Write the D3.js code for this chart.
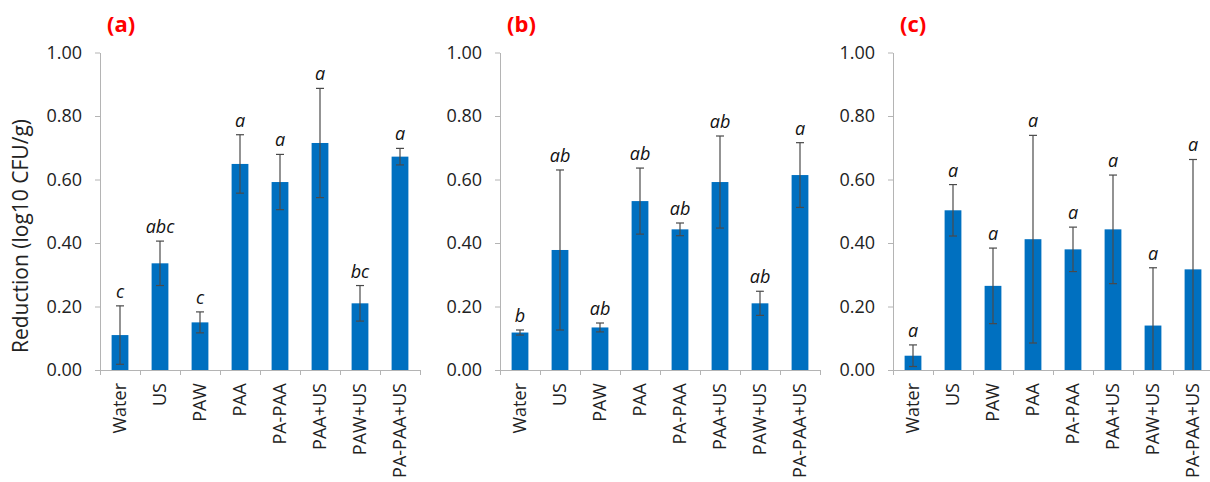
<!DOCTYPE html>
<html>
<head>
<meta charset="utf-8">
<script src="https://cdn.jsdelivr.net/npm/d3@7/dist/d3.min.js"></script>
<style>
  body { margin: 0; background: #fff; }
  svg { display: block; font-family: "Open Sans", sans-serif; }
</style>
</head>
<body>
<svg id="chart" width="1210" height="482"></svg>
<script>
// treatments, same order in every panel
var categories = ["Water", "US", "PAW", "PAA", "PA-PAA", "PAA+US", "PAW+US", "PA-PAA+US"];
var yTicks = [0, 0.2, 0.4, 0.6, 0.8, 1.0];
var panelNames = ["(a)", "(b)", "(c)"];

// mean reduction (log10 CFU/g)
var meansA = [0.110, 0.336, 0.150, 0.649, 0.592, 0.715, 0.210, 0.672];
var meansB = [0.118, 0.378, 0.134, 0.532, 0.443, 0.592, 0.210, 0.614];
var meansC = [0.045, 0.503, 0.265, 0.412, 0.380, 0.443, 0.140, 0.317];

// standard deviation (error bars)
var errA = [0.092, 0.070, 0.033, 0.092, 0.087, 0.172, 0.056, 0.026];
var errB = [0.008, 0.252, 0.014, 0.104, 0.020, 0.145, 0.038, 0.102];
var errC = [0.034, 0.081, 0.119, 0.327, 0.070, 0.171, 0.182, 0.346];

// significance letters
var lettersA = ["c", "abc", "c", "a", "a", "a", "bc", "a"];
var lettersB = ["b", "ab", "ab", "ab", "ab", "ab", "ab", "a"];
var lettersC = ["a", "a", "a", "a", "a", "a", "a", "a"];

var BAR_BLUE = "#0070c0";
var AXIS_GREY = "#b4b4b4";
var PLOT_TOP = 52.5;
var PLOT_BOTTOM = 370;
var BAND = 40;

var svg = d3.select("#chart");

/**
 * Draw one bar panel with its own axes
 * @param {number} x0 left edge (position of the y axis)
 * @param {string} name panel tag like "(a)"
 * @param {Array.<number>} means bar heights
 * @param {Array.<number>} errs error bar half lengths
 * @param {Array.<string>} letters letters above the bars
 */
function draw_panel(x0, name, means, errs, letters) {
    var g = svg.append("g");
    var rows = categories.map(function(c, i) {
        return {cat: c, mean: means[i], err: errs[i], letter: letters[i]};
    });

    var x = d3.scaleBand()
        .domain(categories)
        .range([x0, x0 + BAND * categories.length])
        .paddingInner(0.58)
        .paddingOuter(0.29);
    var xEdge = d3.scaleLinear()
        .domain([0, categories.length])
        .range([x0, x0 + BAND * categories.length]);
    var y = d3.scaleLinear().domain([0, 1]).range([PLOT_BOTTOM, PLOT_TOP]);
    var cx = function(d) { return x(d.cat) + x.bandwidth() / 2; };

    // y axis
    var yAxis = g.append("g")
        .attr("transform", "translate(" + x0 + ",0)")
        .call(d3.axisLeft(y).tickValues(yTicks).tickFormat(d3.format(".2f"))
            .tickSize(5).tickSizeOuter(0).tickPadding(13));
    yAxis.selectAll("path, line").attr("stroke", AXIS_GREY);
    yAxis.selectAll("text")
        .attr("font-family", "Open Sans, sans-serif")
        .attr("font-size", 18)
        .attr("fill", "#222");

    // x axis, ticks sit between categories
    var xAxis = g.append("g")
        .attr("transform", "translate(0," + PLOT_BOTTOM + ")")
        .call(d3.axisBottom(xEdge).tickValues(d3.range(categories.length + 1))
            .tickFormat("").tickSize(5).tickSizeOuter(0));
    xAxis.selectAll("path, line").attr("stroke", AXIS_GREY);

    g.selectAll(".cat")
        .data(rows)
        .enter().append("text")
        .attr("class", "cat")
        .attr("transform", function(d) {
            return "translate(" + cx(d) + "," + (PLOT_BOTTOM + 13) + ") rotate(-90)";
        })
        .attr("text-anchor", "end")
        .attr("dy", "0.35em")
        .attr("font-size", 18)
        .attr("fill", "#222")
        .text(function(d) { return d.cat; });

    // bars
    g.selectAll(".bar")
        .data(rows)
        .enter().append("rect")
        .attr("class", "bar")
        .attr("x", function(d) { return x(d.cat); })
        .attr("width", x.bandwidth())
        .attr("y", function(d) { return y(d.mean); })
        .attr("height", function(d) { return y(0) - y(d.mean); })
        .attr("fill", BAR_BLUE);

    // error bars (clipped at zero)
    var eb = g.selectAll(".err")
        .data(rows)
        .enter().append("g")
        .attr("class", "err")
        .attr("stroke", "#4a4a4a")
        .attr("stroke-width", 1.2);
    eb.append("line")
        .attr("x1", cx)
        .attr("x2", cx)
        .attr("y1", function(d) { return y(d.mean + d.err); })
        .attr("y2", function(d) { return y(Math.max(0, d.mean - d.err)); });
    eb.append("line")
        .attr("x1", function(d) { return cx(d) - 4; })
        .attr("x2", function(d) { return cx(d) + 4; })
        .attr("y1", function(d) { return y(d.mean + d.err); })
        .attr("y2", function(d) { return y(d.mean + d.err); });
    eb.filter(function(d) { return d.mean - d.err > 0; })
        .append("line")
        .attr("x1", function(d) { return cx(d) - 4; })
        .attr("x2", function(d) { return cx(d) + 4; })
        .attr("y1", function(d) { return y(d.mean - d.err); })
        .attr("y2", function(d) { return y(d.mean - d.err); });

    // letters
    g.selectAll(".letter")
        .data(rows)
        .enter().append("text")
        .attr("class", "letter")
        .attr("x", cx)
        .attr("y", function(d) { return y(d.mean + d.err) - 8; })
        .attr("text-anchor", "middle")
        .attr("font-size", 18)
        .attr("font-style", "italic")
        .attr("fill", "#111")
        .text(function(d) { return d.letter; });

    // panel tag
    g.append("text")
        .attr("x", x0 + 7)
        .attr("y", 32)
        .attr("font-size", 22)
        .attr("font-weight", "bold")
        .attr("fill", "#ff0000")
        .text(name);
}

draw_panel(100, panelNames[0], meansA, errA, lettersA);
draw_panel(500, panelNames[1], meansB, errB, lettersB);
draw_panel(893, panelNames[2], meansC, errC, lettersC);

// shared y axis title
svg.append("text")
    .attr("transform", "translate(21,236) rotate(-90)")
    .attr("text-anchor", "middle")
    .attr("dy", "0.35em")
    .attr("font-size", 21)
    .attr("fill", "#222")
    .text("Reduction (log10 CFU/g)");
</script>
</body>
</html>
